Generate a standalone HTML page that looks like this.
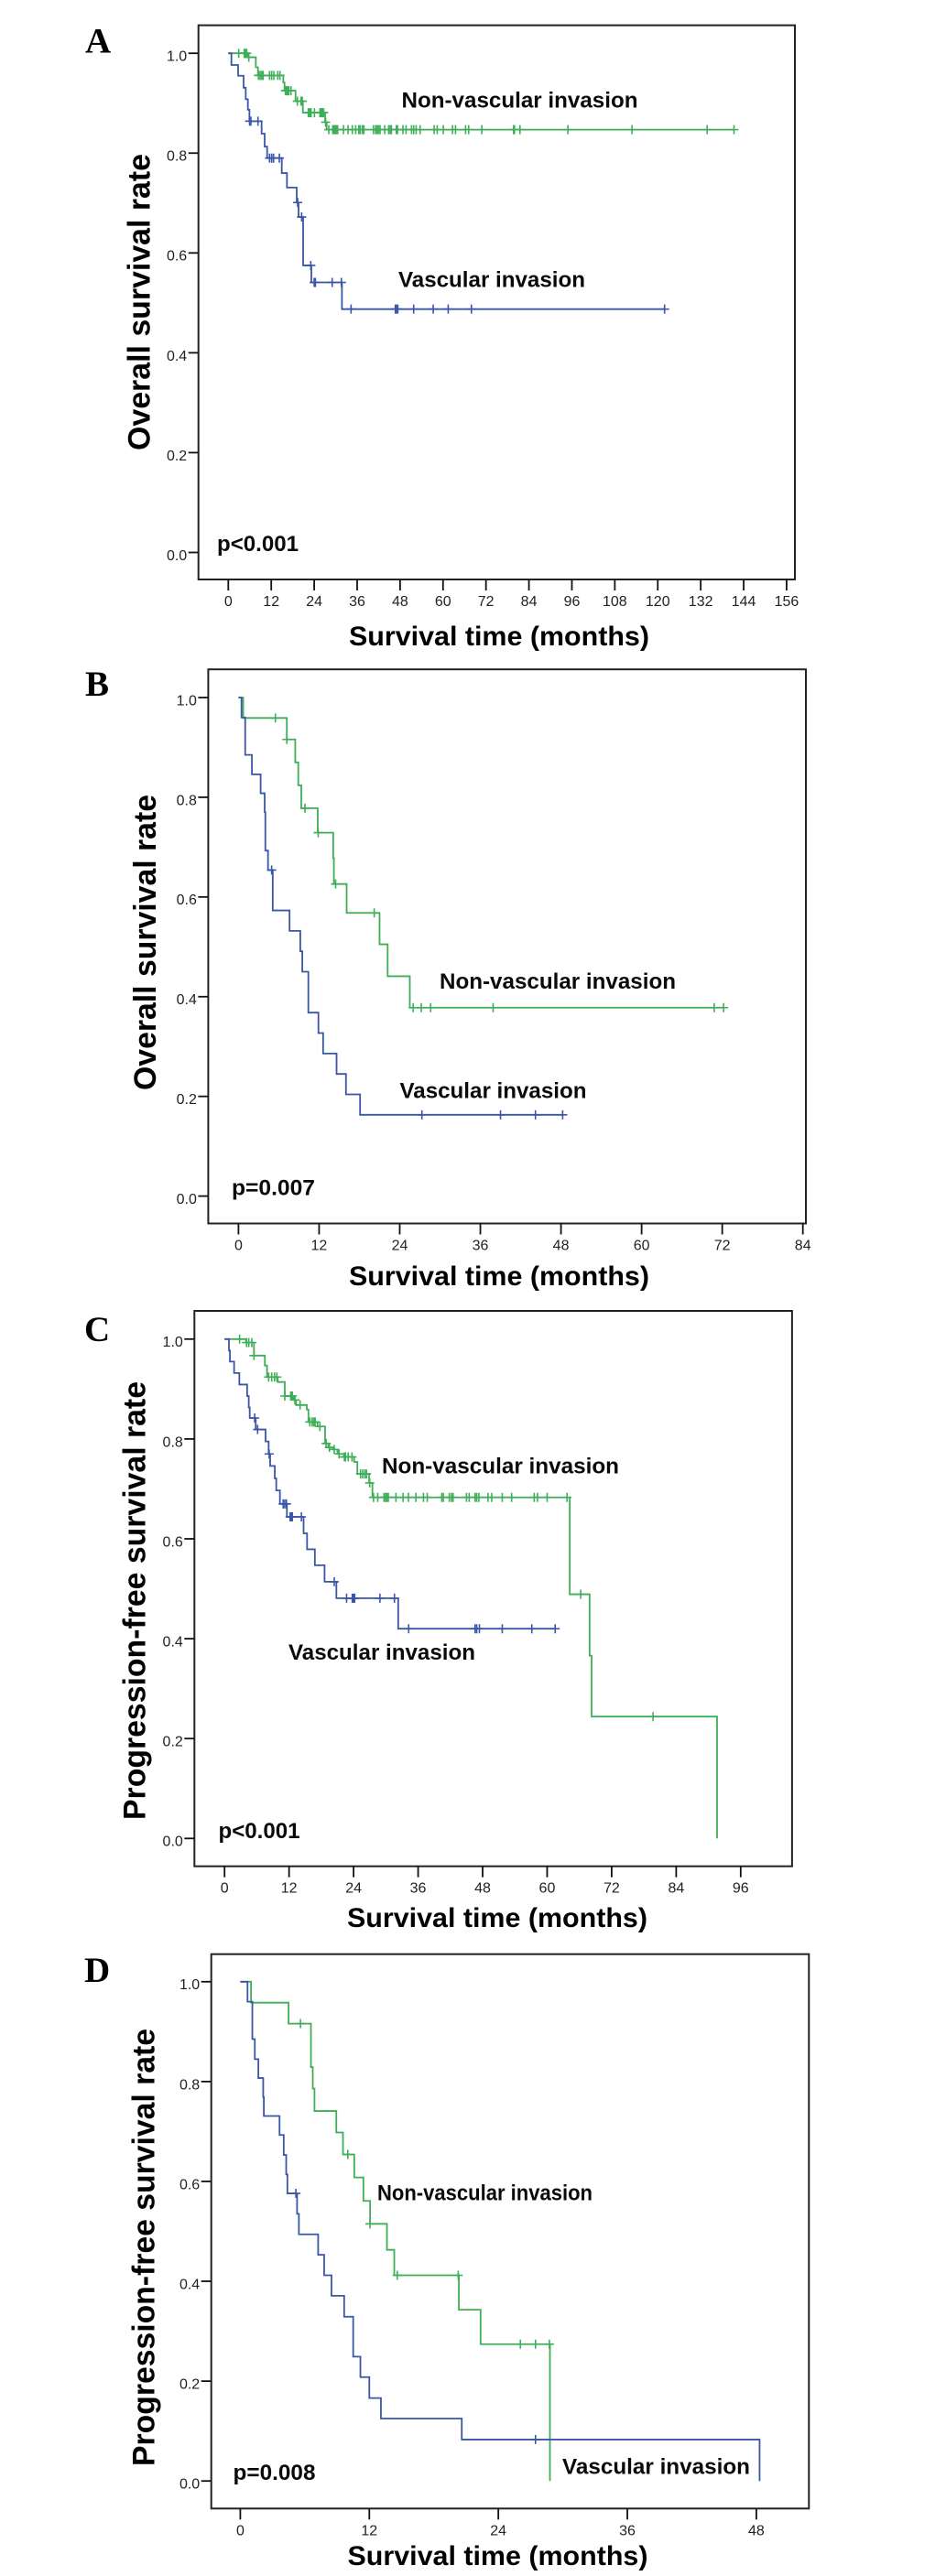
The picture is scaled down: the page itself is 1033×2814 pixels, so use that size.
<!DOCTYPE html>
<html lang="en">
<head>
<meta charset="utf-8">
<title>Survival curves by vascular invasion</title>
<style>
html,body{margin:0;padding:0;background:#fff;}
body{width:1033px;height:2814px;overflow:hidden;}
svg{display:block;}
.panel-letter{font-family:"Liberation Serif",serif;font-weight:bold;font-size:39px;fill:#000;}
.label{font-family:"Liberation Sans",sans-serif;font-weight:bold;font-size:24px;fill:#0a0a0a;}
.axis-title{font-family:"Liberation Sans",sans-serif;font-weight:bold;font-size:30px;fill:#000;}
.y-title{font-family:"Liberation Sans",sans-serif;font-weight:bold;font-size:34px;fill:#000;}
.tick-label{font-family:"Liberation Sans",sans-serif;font-size:16px;fill:#222;}
</style>
</head>
<body>
<svg id="figure" xmlns="http://www.w3.org/2000/svg" width="1033" height="2814" viewBox="0 0 1033 2814">
  <rect x="0" y="0" width="1033" height="2814" fill="#fff"/>

  <g id="panel-a">
    <text class="panel-letter" x="93" y="57.5">A</text>
    <text class="y-title" transform="translate(163.5,492) rotate(-90)" textLength="324" lengthAdjust="spacingAndGlyphs">Overall survival rate</text>
    <text class="axis-title" x="381" y="705" textLength="328" lengthAdjust="spacingAndGlyphs">Survival time (months)</text>
    <text class="label" x="438.5" y="117.5" textLength="258" lengthAdjust="spacingAndGlyphs">Non-vascular invasion</text>
    <text class="label" x="435" y="313.5" textLength="204" lengthAdjust="spacingAndGlyphs">Vascular invasion</text>
    <text class="label" x="237" y="602" textLength="89" lengthAdjust="spacingAndGlyphs">p&lt;0.001</text>
  </g>

  <g id="panel-b">
    <text class="panel-letter" x="93" y="760">B</text>
    <text class="y-title" transform="translate(170,1191) rotate(-90)" textLength="323" lengthAdjust="spacingAndGlyphs">Overall survival rate</text>
    <text class="axis-title" x="381" y="1404" textLength="328" lengthAdjust="spacingAndGlyphs">Survival time (months)</text>
    <text class="label" x="480" y="1080" textLength="258" lengthAdjust="spacingAndGlyphs">Non-vascular invasion</text>
    <text class="label" x="436.5" y="1199.5" textLength="204" lengthAdjust="spacingAndGlyphs">Vascular invasion</text>
    <text class="label" x="253" y="1305.5" textLength="91" lengthAdjust="spacingAndGlyphs">p=0.007</text>
  </g>

  <g id="panel-c">
    <text class="panel-letter" x="92" y="1465">C</text>
    <text class="y-title" transform="translate(158.7,1988) rotate(-90)" textLength="479" lengthAdjust="spacingAndGlyphs">Progression-free survival rate</text>
    <text class="axis-title" x="379" y="2105" textLength="328" lengthAdjust="spacingAndGlyphs">Survival time (months)</text>
    <text class="label" x="417" y="1609.5" textLength="259" lengthAdjust="spacingAndGlyphs">Non-vascular invasion</text>
    <text class="label" x="315" y="1813" textLength="204" lengthAdjust="spacingAndGlyphs">Vascular invasion</text>
    <text class="label" x="238.5" y="2008" textLength="89" lengthAdjust="spacingAndGlyphs">p&lt;0.001</text>
  </g>

  <g id="panel-d">
    <text class="panel-letter" x="92" y="2165">D</text>
    <text class="y-title" transform="translate(168.7,2694) rotate(-90)" textLength="478" lengthAdjust="spacingAndGlyphs">Progression-free survival rate</text>
    <text class="axis-title" x="379.5" y="2802" textLength="328" lengthAdjust="spacingAndGlyphs">Survival time (months)</text>
    <text class="label" x="412" y="2403.5" textLength="235" lengthAdjust="spacingAndGlyphs">Non-vascular invasion</text>
    <text class="label" x="614" y="2702.5" textLength="205" lengthAdjust="spacingAndGlyphs">Vascular invasion</text>
    <text class="label" x="254.5" y="2709" textLength="90" lengthAdjust="spacingAndGlyphs">p=0.008</text>
  </g>
</svg>

<script>
// ---- shared tick values ----
const survivalTicks = [0, 0.2, 0.4, 0.6, 0.8, 1.0];
const survivalTickLabels = ['0.0', '0.2', '0.4', '0.6', '0.8', '1.0'];
const monthTicksA = [0, 12, 24, 36, 48, 60, 72, 84, 96, 108, 120, 132, 144, 156];
const monthTicksB = [0, 12, 24, 36, 48, 60, 72, 84];
const monthTicksC = [0, 12, 24, 36, 48, 60, 72, 84, 96];
const monthTicksD = [0, 12, 24, 36, 48];

// ---- panel A ----
const aVascularTimes = [0.86, 2.74, 4.27, 4.87, 5.47, 5.9, 9.31, 10.16, 10.85, 14.94, 16.39, 19.12, 19.63, 20.91, 23.2, 31.75];
const aVascularSurvival = [0.9765, 0.955, 0.931, 0.908, 0.887, 0.864, 0.839, 0.813, 0.79, 0.76, 0.731, 0.701, 0.672, 0.575, 0.541, 0.4875];
const aVascularCensors = [5.95, 6.32, 8.29, 11.53, 12.12, 12.64, 14.26, 19.38, 20.49, 23.05, 24, 24.33, 29.02, 31.6, 34.3, 46.68, 46.94, 47.36, 51.8, 57.26, 61.44, 67.93, 121.9];
const aNonVascularTimes = [5.47, 7.69, 8.29, 15.37, 15.71, 18.78, 20.83, 27.06, 27.48];
const aNonVascularSurvival = [0.992, 0.972, 0.9557, 0.9415, 0.925, 0.904, 0.881, 0.862, 0.847];
const aNonVascularCensors = [2.91, 4.45, 4.87, 5.13, 5.73, 8.46, 8.88, 9.31, 9.74, 11.53, 12.12, 12.72, 13.83, 14.43, 15.96, 16.3, 16.56, 16.9, 17.5, 19.29, 20.32, 20.66, 22.36, 22.79, 23.13, 24.07, 25.6, 25.95, 26.29, 26.63, 27.2, 28.08, 29.19, 29.53, 29.87, 30.21, 30.55, 32.18, 33.46, 34.65, 35.59, 36.44, 36.87, 37.47, 37.89, 40.54, 41.14, 41.56, 41.99, 42.41, 43.7, 44.8, 45.23, 45.57, 46.94, 47.28, 48.8, 49.67, 51.2, 51.8, 52.48, 53.59, 57.52, 58.37, 60.08, 62.64, 63.49, 66.3, 67.16, 70.83, 79.7, 79.95, 81.5, 94.9, 112.8, 133.8, 141.3];

// ---- panel B ----
const bVascularTimes = [0.45, 1.0, 2.0, 3.3, 3.9, 4.0, 4.4, 5.1, 7.6, 9.2, 9.5, 10.4, 11.9, 12.6, 14.6, 16, 18.1];
const bVascularSurvival = [0.96, 0.885, 0.846, 0.808, 0.77, 0.693, 0.654, 0.573, 0.532, 0.491, 0.45, 0.368, 0.327, 0.286, 0.245, 0.204, 0.163];
const bVascularCensors = [4.94, 27.3, 39, 44.2, 48.25];
const bNonVascularTimes = [0.7, 7.2, 8.45, 8.9, 9.35, 11.8, 14.1, 14.2, 16.1, 21, 22.2, 25.5];
const bNonVascularSurvival = [0.959, 0.916, 0.87, 0.824, 0.778, 0.729, 0.678, 0.626, 0.568, 0.505, 0.441, 0.378];
const bNonVascularCensors = [5.5, 7.2, 9.9, 11.86, 14.46, 20.2, 26, 27.2, 28.6, 37.9, 70.8, 72.2];

// ---- panel C ----
const cVascularTimes = [0.82, 1, 1.78, 2.75, 4.2, 4.5, 4.68, 5.8, 7.63, 8.2, 8.48, 9.34, 9.62, 10.3, 11.6, 14.7, 15.35, 16.8, 18.6, 20.8, 32.3];
const cVascularSurvival = [0.977, 0.955, 0.932, 0.909, 0.886, 0.863, 0.842, 0.819, 0.795, 0.77, 0.746, 0.721, 0.697, 0.67, 0.644, 0.611, 0.579, 0.547, 0.514, 0.481, 0.42];
const cVascularCensors = [5.6, 6.15, 8.3, 10.9, 11.2, 11.5, 12.2, 12.4, 12.6, 14.3, 20.4, 22.7, 23.76, 24, 24.2, 28.9, 31.6, 34.25, 46.6, 46.9, 47.4, 51.65, 57.15, 61.5];
const cNonVascularTimes = [4, 5.47, 7.5, 7.9, 9.9, 11.2, 12.86, 13.3, 15.3, 15.6, 17.3, 18.7, 19.3, 20.2, 21, 22.2, 24.1, 24.7, 26.9, 27.5, 64.2, 67.9, 68.27, 91.6];
const cNonVascularSurvival = [0.993, 0.967, 0.947, 0.924, 0.914, 0.886, 0.878, 0.868, 0.859, 0.834, 0.825, 0.791, 0.783, 0.779, 0.77, 0.764, 0.754, 0.73, 0.712, 0.683, 0.489, 0.366, 0.244, 0];
const cNonVascularCensors = [2.8, 4.1, 4.5, 5.08, 5.47, 8.2, 8.77, 9.3, 9.73, 11.2, 12.3, 12.45, 12.6, 13.1, 14.05, 15.87, 16.3, 16.6, 16.85, 17.74, 18.9, 19.5, 20.4, 21.3, 22.3, 22.5, 23, 23.7, 25.3, 25.7, 26.1, 26.4, 27, 27.7, 28.5, 29.66, 29.95, 30.2, 30.46, 31.88, 33.2, 34.2, 35.6, 37, 37.7, 40.4, 40.7, 41.8, 42.2, 42.5, 45, 45.5, 46.6, 46.9, 47.3, 49, 49.7, 51.65, 53.4, 57.6, 58.2, 60, 63.7, 66.25, 79.7];

// ---- panel D ----
const dVascularTimes = [0.67, 1.12, 1.35, 1.68, 2.13, 2.19, 3.65, 4.04, 4.27, 4.38, 5.28, 5.45, 7.24, 7.8, 8.48, 9.66, 10.5, 11.17, 12, 13.08, 20.6, 48.3];
const dVascularSurvival = [0.96, 0.885, 0.845, 0.807, 0.769, 0.731, 0.693, 0.653, 0.614, 0.576, 0.535, 0.494, 0.453, 0.412, 0.371, 0.329, 0.249, 0.208, 0.166, 0.125, 0.083, 0];
const dVascularCensors = [5.17, 27.46];
const dNonVascularTimes = [1, 4.49, 6.57, 6.74, 6.9, 8.93, 9.55, 10.6, 11.45, 12.07, 13.64, 14.32, 20.33, 22.35, 28.8];
const dNonVascularSurvival = [0.958, 0.916, 0.829, 0.786, 0.741, 0.698, 0.654, 0.608, 0.561, 0.515, 0.463, 0.412, 0.343, 0.274, 0];
const dNonVascularCensors = [5.6, 10, 12.07, 14.6, 20.27, 26.05, 27.46, 28.75];

// ---- layout (pixel geometry of each plot) ----
const GREEN = '#3fae58';
const BLUE = '#3a56a8';
const NS = 'http://www.w3.org/2000/svg';

function makeAxes(px0, pxPerMonth, pyZero, pyOne) {
  return {
    x: function (m) { return px0 + m * pxPerMonth; },
    y: function (s) { return pyZero + (pyOne - pyZero) * s; }
  };
}

function survivalAt(times, survival, t) {
  let s = 1;
  for (let i = 0; i < times.length; i++) {
    if (times[i] <= t) { s = survival[i]; }
  }
  return s;
}

function drawSeries(group, key, color, axes, times, survival, censors) {
  const last = Math.max(times[times.length - 1], censors[censors.length - 1]);
  let d = 'M' + axes.x(0).toFixed(2) + ' ' + axes.y(1).toFixed(2);
  for (let i = 0; i < times.length; i++) {
    d += 'H' + axes.x(times[i]).toFixed(2) + 'V' + axes.y(survival[i]).toFixed(2);
  }
  d += 'H' + axes.x(last).toFixed(2);
  const line = document.createElementNS(NS, 'path');
  
  
  line.setAttribute('d', d);
  line.setAttribute('fill', 'none');
  line.setAttribute('stroke', color);
  line.setAttribute('stroke-width', '1.8');
  group.appendChild(line);

  censors.forEach(function (t) {
    const cx = axes.x(t);
    const cy = axes.y(survivalAt(times, survival, t));
    const mark = document.createElementNS(NS, 'path');
    
    
    mark.setAttribute('d', 'M' + (cx - 5).toFixed(2) + ' ' + cy.toFixed(2) + 'H' + (cx + 5).toFixed(2) +
      'M' + cx.toFixed(2) + ' ' + (cy - 5).toFixed(2) + 'V' + (cy + 5).toFixed(2));
    mark.setAttribute('fill', 'none');
    mark.setAttribute('stroke', color);
    mark.setAttribute('stroke-width', '1.6');
    group.appendChild(mark);
  });
}

function drawFrame(group, key, box, axes, monthTicks) {
  const frame = document.createElementNS(NS, 'rect');
  
  
  frame.setAttribute('x', box.left);
  frame.setAttribute('y', box.top);
  frame.setAttribute('width', box.right - box.left);
  frame.setAttribute('height', box.bottom - box.top);
  frame.setAttribute('fill', 'none');
  frame.setAttribute('stroke', '#222');
  frame.setAttribute('stroke-width', '2');
  group.appendChild(frame);

  survivalTicks.forEach(function (v, i) {
    const yy = axes.y(v);
    const tick = document.createElementNS(NS, 'line');
    
    
    tick.setAttribute('x1', box.left - 11);
    tick.setAttribute('x2', box.left);
    tick.setAttribute('y1', yy);
    tick.setAttribute('y2', yy);
    tick.setAttribute('stroke', '#111');
    tick.setAttribute('stroke-width', '1.8');
    group.appendChild(tick);
    const lab = document.createElementNS(NS, 'text');
    
    
    lab.setAttribute('class', 'tick-label');
    lab.setAttribute('x', box.left - 12.5);
    lab.setAttribute('y', yy + 8.4);
    lab.setAttribute('text-anchor', 'end');
    lab.textContent = survivalTickLabels[i];
    group.appendChild(lab);
  });

  monthTicks.forEach(function (m) {
    const xx = axes.x(m);
    const tick = document.createElementNS(NS, 'line');
    
    
    tick.setAttribute('x1', xx);
    tick.setAttribute('x2', xx);
    tick.setAttribute('y1', box.bottom);
    tick.setAttribute('y2', box.bottom + 12);
    tick.setAttribute('stroke', '#111');
    tick.setAttribute('stroke-width', '1.8');
    group.appendChild(tick);
    const lab = document.createElementNS(NS, 'text');
    
    
    lab.setAttribute('class', 'tick-label');
    lab.setAttribute('x', xx);
    lab.setAttribute('y', box.bottom + 29);
    lab.setAttribute('text-anchor', 'middle');
    lab.textContent = String(m);
    group.appendChild(lab);
  });
}

function drawPanel(id, key, box, axes, monthTicks, vT, vS, vC, nT, nS, nC) {
  const group = document.getElementById(id);
  drawFrame(group, key, box, axes, monthTicks);
  drawSeries(group, key + '-non-vascular', GREEN, axes, nT, nS, nC);
  drawSeries(group, key + '-vascular', BLUE, axes, vT, vS, vC);
}

drawPanel('panel-a', 'panel-a', {left: 216.7, right: 868, top: 27.6, bottom: 633},
  makeAxes(249.3, 3.908, 603.5, 58.2), monthTicksA,
  aVascularTimes, aVascularSurvival, aVascularCensors,
  aNonVascularTimes, aNonVascularSurvival, aNonVascularCensors);

drawPanel('panel-b', 'panel-b', {left: 227.4, right: 880, top: 731.2, bottom: 1336.5},
  makeAxes(260.4, 7.337, 1306.6, 762), monthTicksB,
  bVascularTimes, bVascularSurvival, bVascularCensors,
  bNonVascularTimes, bNonVascularSurvival, bNonVascularCensors);

drawPanel('panel-c', 'panel-c', {left: 212.3, right: 864.9, top: 1432, bottom: 2038.7},
  makeAxes(245.2, 5.871, 2008.3, 1462.8), monthTicksC,
  cVascularTimes, cVascularSurvival, cVascularCensors,
  cNonVascularTimes, cNonVascularSurvival, cNonVascularCensors);

drawPanel('panel-d', 'panel-d', {left: 230.7, right: 883.3, top: 2134.7, bottom: 2740.3},
  makeAxes(262.4, 11.74, 2710.2, 2164.8), monthTicksD,
  dVascularTimes, dVascularSurvival, dVascularCensors,
  dNonVascularTimes, dNonVascularSurvival, dNonVascularCensors);
</script>
</body>
</html>
